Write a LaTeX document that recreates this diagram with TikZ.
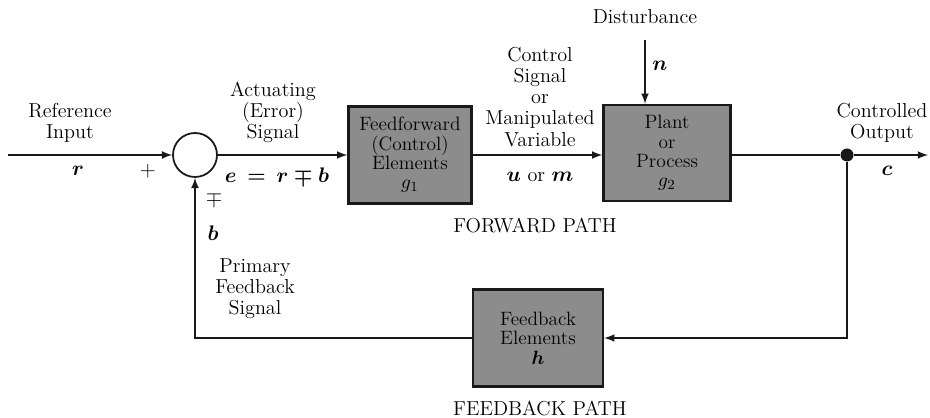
\documentclass[tikz,border=0pt]{standalone}
\usepackage{amsmath}
\usepackage{tikz}
\usetikzlibrary{arrows,shapes,positioning}
\definecolor{grayBlock}{rgb}{0.55,0.55,0.55}
\definecolor{darkLine}{rgb}{0.1,0.1,0.1}

\tikzset{
  block/.style={draw=darkLine, line width=1.4pt, fill=grayBlock, align=center,
    inner sep=2pt, font=\fontsize{11}{11}\selectfont},
  label/.style={align=center, inner sep=1pt, font=\fontsize{11.5}{12}\selectfont},
  signal/.style={draw=darkLine, line width=1pt, -latex},
  wire/.style={draw=darkLine, line width=1pt}
}

\begin{document}
\begin{tikzpicture}[x=0.02cm, y=-0.02cm]
			\useasboundingbox (0,0) rectangle (930,418);

			% blocks
			\node[circle, draw=darkLine, line width=1pt, minimum size=0.88cm] (sum) at (195,155) {};
			\node[block, minimum width=2.46cm, minimum height=1.94cm] (ctrl) at (410,155)
				{Feedforward\\(Control)\\Elements\\$g_1$};
			\node[block, minimum width=2.54cm, minimum height=1.92cm] (plant) at (667,153)
				{Plant\\or\\Process\\$g_2$};
			\node[block, minimum width=2.6cm, minimum height=1.94cm] (fb) at (538,338)
				{Feedback\\Elements\\$\boldsymbol{h}$};
			\node[circle, fill=darkLine, inner sep=0pt, minimum size=0.26cm] (split) at (847,155) {};

			% free ends
			\coordinate (in) at (8,155);
			\coordinate (out) at (928,155);

			% labels
			\node[label] (refin) at (70,123) {Reference\\Input};
			\node[label] (rsig) at (78,171) {$\boldsymbol{r}$};
			\node[label] (plus) at (148,171) {$+$};
			\node[label] (act) at (273,112) {Actuating\\(Error)\\Signal};
			\node[label] (esig) at (277,177) {$\boldsymbol{e\,=\,r \mp b}$};
			\node[label] (mnus) at (214,199) {$\mp$};
			\node[label] (bsig) at (213,233) {$\boldsymbol{b}$};
			\node[label] (prim) at (255,289) {Primary\\Feedback\\Signal};
			\node[label] (csig) at (540,97) {Control\\Signal\\or\\Manipulated\\Variable};
			\node[label] (usig) at (540,177) {$\boldsymbol{u}$ or $\boldsymbol{m}$};
			\node[label] (dist) at (645,17) {Disturbance};
			\node[label] (nsig) at (660,66) {$\boldsymbol{n}$};
			\node[label] (cout) at (882,123) {Controlled\\Output};
			\node[label] (ccsig) at (887,171) {$\boldsymbol{c}$};
			\node[label] (fwd) at (535,226) {FORWARD PATH};
			\node[label] (back) at (540,408) {FEEDBACK PATH};

			% signals
			\draw[signal] (in) -- (sum.west);
			\draw[signal] (sum.east) -- (ctrl.west);
			\draw[signal] (ctrl.east) -- (ctrl.east -| plant.west);
			\draw[signal, shorten <=8pt] (dist.south) -- (dist.south |- plant.north);
			\draw[wire] (split) -- (split -| plant.east);
			\draw[signal] (split) -- (out);
			\draw[signal] (split) |- (fb.east);
			\draw[signal] (fb.west) -| (sum.south);
		  \end{tikzpicture}
\end{document}
